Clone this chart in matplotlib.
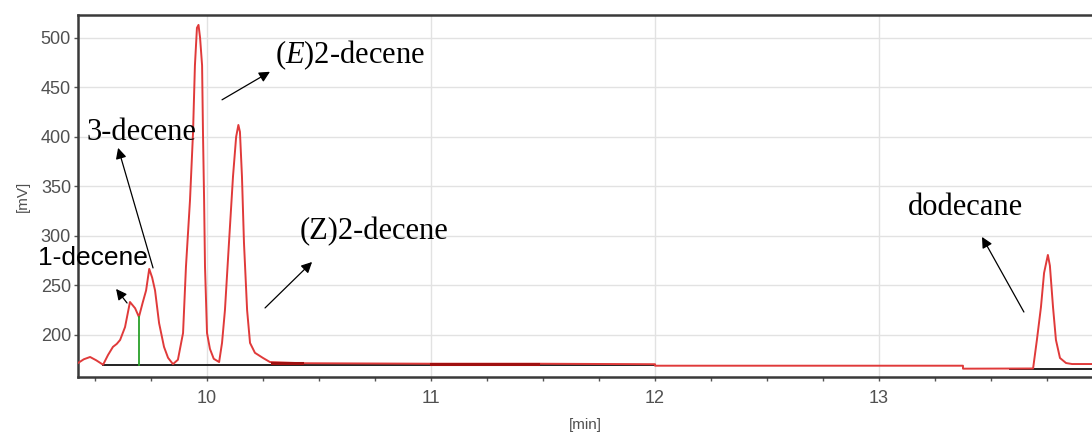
import matplotlib.pyplot as plt
from matplotlib.ticker import MultipleLocator

plt.rcParams['mathtext.fontset'] = 'custom'
plt.rcParams['mathtext.rm'] = 'Liberation Serif'
plt.rcParams['mathtext.it'] = 'Liberation Serif:italic'

# chromatogram trace: retention time [min] and detector signal [mV]
time = [9.424, 9.45, 9.478, 9.505, 9.536, 9.558, 9.580, 9.597, 9.612, 9.634,
        9.656, 9.679, 9.696, 9.712, 9.728, 9.742, 9.755, 9.768, 9.786, 9.808,
        9.826, 9.848, 9.870, 9.893, 9.906, 9.924, 9.9375, 9.946, 9.955, 9.962,
        9.969, 9.978, 9.982, 9.987, 9.991, 10.0, 10.013, 10.030, 10.054, 10.067,
        10.080, 10.098, 10.116, 10.130, 10.140, 10.147, 10.156, 10.165, 10.179, 10.192,
        10.214, 10.25, 10.281, 10.424, 11.0, 11.478, 12.0, 12.0, 13.375, 13.375,
        13.688, 13.705, 13.723, 13.737, 13.754, 13.763, 13.777, 13.790, 13.808, 13.835,
        13.862, 13.951]
signal = [171.7, 175.5, 177.8, 174.5, 170.0, 179.8, 188, 191, 195, 208,
          233.3, 227, 218.2, 232, 245, 266.7, 258, 245, 212, 188,
          177, 170.6, 175, 202, 269, 336, 404, 472, 510, 513,
          500, 472, 404, 336, 269, 202, 186, 176, 172.7, 192,
          225, 293, 360, 400, 412, 405, 360, 293, 225, 192,
          182, 176.8, 172.7, 171.5, 171, 171, 170.5, 169, 169, 166,
          166.2, 195, 228, 262.6, 280.8, 270, 228, 195, 176.8, 171.7,
          170.7, 170.7]

# integration baselines
base_start = [9.536, 13.585]
base_end = [12.0, 13.951]
base_level = [169.8, 165.7]

# highlighted (integrated) flat stretches
mark_start = [10.29, 11.0]
mark_end = [10.424, 11.478]
mark_level = [171.3, 171.0]

# peak split between 1-decene and 3-decene
split_time = 9.696
split_top = 218.2

fig = plt.figure(figsize=(10.92, 4.36), dpi=100)
ax = fig.add_axes([78 / 1092, 1 - 377 / 436, 1 - 78 / 1092, (377 - 15) / 436])

ax.plot(time, signal, color='#e03a3a', lw=1.4, zorder=3)
for s, e, lv in zip(base_start, base_end, base_level):
    ax.plot([s, e], [lv, lv], color='#222222', lw=1.4, zorder=2)
for s, e, lv in zip(mark_start, mark_end, mark_level):
    ax.plot([s, e], [lv, lv], color='#a01010', lw=2.2, zorder=4)
ax.plot([split_time, split_time], [base_level[0], split_top], color='#2aa02a', lw=1.3, zorder=4)

ax.set_xlim(9.424, 13.951)
ax.set_ylim(157.6, 523)
ax.xaxis.set_major_locator(MultipleLocator(1))
ax.xaxis.set_minor_locator(MultipleLocator(0.25))
ax.set_yticks([200, 250, 300, 350, 400, 450, 500])
ax.grid(True, which='major', color='#e2e2e2', lw=1.0)
ax.set_axisbelow(True)

for side in ['top', 'left', 'bottom']:
    ax.spines[side].set_color('#3a3a3a')
    ax.spines[side].set_linewidth(1.8)
ax.spines['right'].set_visible(False)

ax.tick_params(axis='both', which='major', direction='out', length=3, width=1,
               color='#555555', labelcolor='#505050', labelsize=13, pad=2)
ax.tick_params(axis='x', which='major', pad=6)
ax.tick_params(axis='x', which='minor', direction='out', length=3, width=1, color='#555555')
for lab in ax.get_xticklabels() + ax.get_yticklabels():
    lab.set_family('Liberation Sans')

ax.set_xlabel('[min]', fontsize=11, color='#505050', family='Liberation Sans')
ax.set_ylabel('[mV]', fontsize=11, color='#505050', family='Liberation Sans')
ax.xaxis.set_label_coords(0.5, -0.113)
ax.yaxis.set_label_coords(-0.047, 0.5)

arrow = dict(arrowstyle='-|>', color='black', lw=0.9, mutation_scale=16, shrinkA=0, shrinkB=0)
serif = dict(fontsize=22, family='Liberation Serif', color='black', va='center', ha='left')

ax.text(10.304, 482.8, r'($\mathit{E}$)2-decene', **serif)
ax.annotate('', xy=(10.281, 465.7), xytext=(10.067, 437.4), arrowprops=arrow)

ax.text(9.460, 404, '3-decene', **serif)
ax.annotate('', xy=(9.603, 388.9), xytext=(9.759, 267.7), arrowprops=arrow)

ax.text(9.246, 277.8, '1-decene', fontsize=19, family='Liberation Sans',
        color='black', va='center', ha='left', clip_on=False)
ax.annotate('', xy=(9.594, 246.5), xytext=(9.643, 232.3), arrowprops=arrow)

ax.text(10.415, 304, '(Z)2-decene', **serif)
ax.annotate('', xy=(10.469, 273.7), xytext=(10.259, 227.3), arrowprops=arrow)

ax.text(13.129, 328.3, 'dodecane', **serif)
ax.annotate('', xy=(13.460, 299), xytext=(13.647, 223.2), arrowprops=arrow)

fig.savefig('out.png', dpi=100)
